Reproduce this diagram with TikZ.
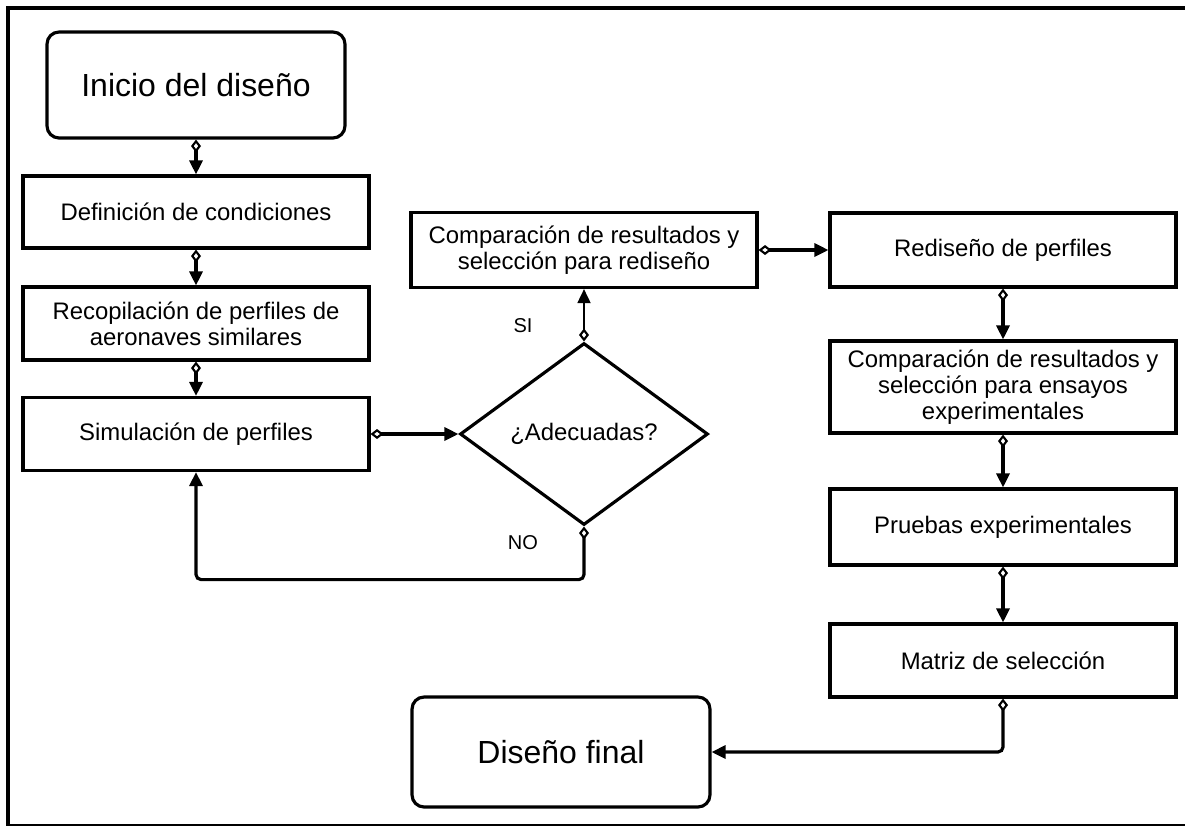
\documentclass[tikz,border=0pt]{standalone}
\usepackage{fontspec}
\setmainfont{Liberation Sans}
\usetikzlibrary{arrows.meta,shapes.geometric}
\tikzset{
    caja/.style={draw, line width=1.8pt, minimum width=6.92cm, align=center, inner sep=2pt, font=\fontsize{13.6}{14.8}\selectfont},
    extremo/.style={draw, rounded corners=0.24cm, line width=1.8pt, minimum width=5.96cm, font=\fontsize{18.2}{20}\selectfont},
    decision/.style={draw, diamond, line width=1.8pt, minimum width=4.96cm, minimum height=3.64cm, inner sep=0pt, font=\fontsize{13.6}{14.8}\selectfont},
    flecha/.style={line width=1.8pt, rounded corners=0.1cm, {Diamond[open, length=0.26cm, width=0.2cm, line width=1.2pt]}-{Triangle[length=0.28cm, width=0.26cm]}},
    etiqueta/.style={font=\fontsize{11.4}{12}\selectfont}
}
\begin{document}
\begin{tikzpicture}[x=0.02cm, y=-0.02cm]
                    \useasboundingbox (0,0) rectangle (1185,826);
                    \draw [line width=2.6pt] (8,6) -- (8,824);
                    \draw [line width=2.6pt] (6,8) -- (1185,8);
                    \draw [line width=0.9pt] (6,824.8) -- (1185,824.8);

                    \node [extremo, minimum height=2.12cm] (inicio) at (196,85) {Inicio del diseño};
                    \node [caja, minimum height=1.44cm] (defin) at (196,212) {Definición de condiciones};
                    \node [caja, minimum height=1.46cm] (recop) at (196,323.5) {Recopilación de perfiles de\\aeronaves similares};
                    \node [caja, minimum height=1.46cm] (simul) at (196,434) {Simulación de perfiles};
                    \node [decision] (adec) at (584,434) {¿Adecuadas?};
                    \node [caja, minimum height=1.5cm] (comp1) at (584,250) {Comparación de resultados y\\selección para rediseño};
                    \node [caja, minimum height=1.48cm] (redis) at (1003,250) {Rediseño de perfiles};
                    \node [caja, minimum height=1.84cm] (comp2) at (1003,387) {Comparación de resultados y\\selección para ensayos\\experimentales};
                    \node [caja, minimum height=1.52cm] (pruebas) at (1003,527) {Pruebas experimentales};
                    \node [caja, minimum height=1.46cm] (matriz) at (1003,660.5) {Matriz de selección};
                    \node [extremo, minimum height=2.2cm] (final) at (561,752) {Diseño final};
                    \node [etiqueta] (si) at (523,326) {SI};
                    \node [etiqueta] (no) at (523,543) {NO};

                    \draw [flecha] (inicio.south) -- (defin.north);
                    \draw [flecha] (defin.south) -- (recop.north);
                    \draw [flecha] (recop.south) -- (simul.north);
                    \draw [flecha] (simul.east) -- (adec.west);
                    \draw [flecha, line width=1pt] (adec.north) -- (comp1.south);
                    \draw [flecha] (adec.south) -- ++(0,53) -| (simul.south);
                    \draw [flecha] (comp1.east) -- (redis.west);
                    \draw [flecha] (redis.south) -- (comp2.north);
                    \draw [flecha] (comp2.south) -- (pruebas.north);
                    \draw [flecha] (pruebas.south) -- (matriz.north);
                    \draw [flecha] (matriz.south) |- (final.east);
\end{tikzpicture}
\end{document}
